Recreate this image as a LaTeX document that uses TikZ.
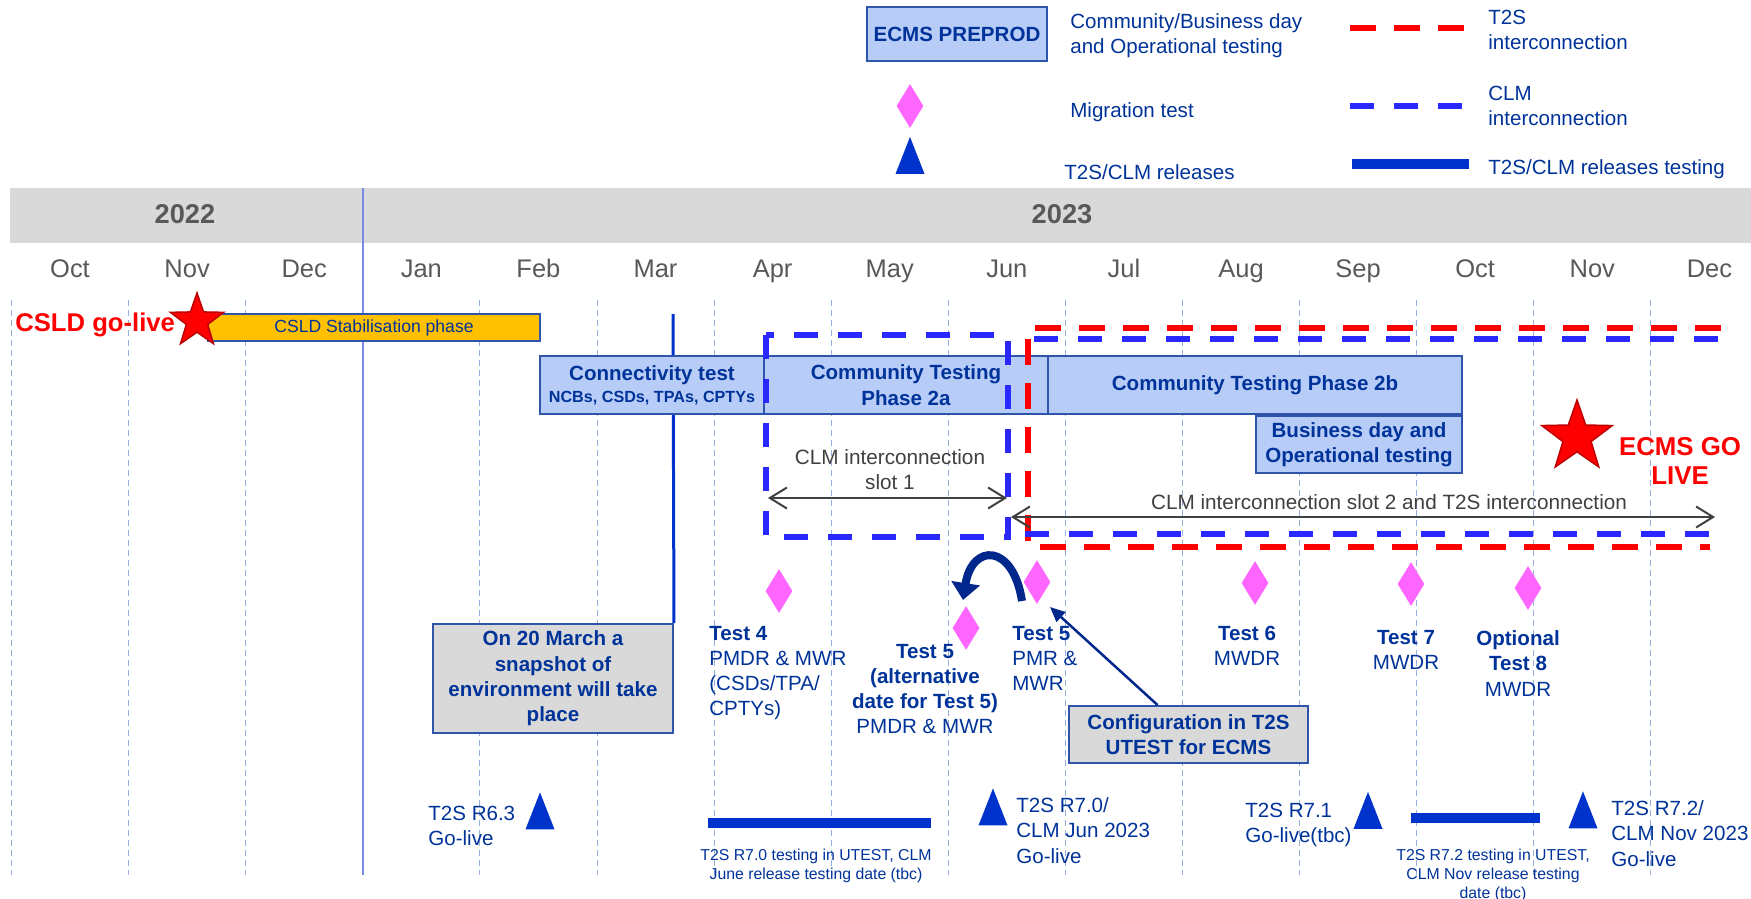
\documentclass[tikz,border=0pt]{standalone}
\usepackage{fontspec}
\setmainfont{Liberation Sans}
\usetikzlibrary{arrows.meta,%
                shapes.geometric}
\definecolor{txtblue}{RGB}{0,51,153}
\definecolor{boxblue}{RGB}{184,204,248}
\definecolor{boxline}{RGB}{47,85,170}
\definecolor{notegray}{RGB}{217,217,217}
\definecolor{stabyellow}{RGB}{255,192,0}
\definecolor{migrpink}{RGB}{255,102,255}
\definecolor{relblue}{RGB}{0,51,204}
\definecolor{clmblue}{RGB}{40,40,255}
\definecolor{t2sred}{RGB}{255,0,0}
\definecolor{navy}{RGB}{0,40,140}
\definecolor{gridblue}{RGB}{150,175,220}
\definecolor{monthgray}{RGB}{89,89,89}
\definecolor{arrowgray}{RGB}{64,64,64}
\tikzstyle{phasebox}=[rectangle, draw=boxline, line width=0.4mm, fill=boxblue, text=txtblue, font=\bfseries\fontsize{11.7}{14.4}\selectfont, align=center, inner sep=0pt]
\tikzstyle{notebox}=[phasebox, fill=notegray]
\tikzstyle{stabbox}=[rectangle, draw=boxline, line width=0.4mm, fill=stabyellow, text=txtblue, font=\fontsize{10}{12}\selectfont, inner sep=0pt]
\tikzstyle{migr}=[diamond, fill=migrpink, minimum width=0.54cm, minimum height=0.88cm, inner sep=0pt]
\tikzstyle{release}=[isosceles triangle, shape border rotate=90, isosceles triangle stretches, fill=relblue, minimum width=0.58cm, minimum height=0.74cm, inner sep=0pt]
\tikzstyle{redstar}=[star, star points=5, star point ratio=2.5, fill=t2sred, draw=red!75!black, line width=0.3mm, inner sep=0pt]
\tikzstyle{clmdash}=[draw=clmblue, line width=1.2mm, dash pattern=on 4.8mm off 4mm]
\tikzstyle{t2sdash}=[draw=t2sred, line width=1.2mm, dash pattern=on 5.2mm off 3.6mm]
\tikzstyle{monthgrid}=[draw=gridblue, line width=0.2mm, dash pattern=on 1.2mm off 0.8mm]
\tikzstyle{relbar}=[draw=relblue, line width=2mm]
\tikzstyle{slotarrow}=[draw=arrowgray, line width=0.4mm, {Straight Barb[length=3.4mm,width=4.2mm]}-{Straight Barb[length=3.4mm,width=4.2mm]}]
\tikzstyle{swaparrow}=[draw=navy, line width=1.6mm, -{Triangle[length=3.4mm,width=5.6mm]}]
\tikzstyle{cfgarrow}=[draw=navy, line width=0.5mm, -{Triangle[length=3mm,width=2.6mm]}]
\tikzstyle{monthlbl}=[text=monthgray, font=\fontsize{14.5}{17}\selectfont, inner sep=0pt, anchor=base]
\tikzstyle{yearlbl}=[text=monthgray, font=\bfseries\fontsize{15.5}{18}\selectfont, inner sep=0pt, anchor=base]
\tikzstyle{legtxt}=[text=txtblue, font=\fontsize{11.7}{14.2}\selectfont, align=left, inner sep=0pt]
\tikzstyle{testlbl}=[text=txtblue, font=\fontsize{11.7}{14.3}\selectfont, inner sep=0pt]
\tikzstyle{redlbl}=[text=t2sred, font=\bfseries\fontsize{14.6}{17}\selectfont, align=center, inner sep=0pt]
\tikzstyle{slotlbl}=[text=arrowgray, font=\fontsize{11.8}{14.2}\selectfont, align=center, inner sep=0pt]
\tikzstyle{smalllbl}=[text=txtblue, font=\fontsize{9}{10.8}\selectfont, align=center, inner sep=0pt]

\begin{document}
\begin{tikzpicture}[x=0.02cm,y=-0.02cm]
  \useasboundingbox (0,0) rectangle (1751,899);
  \fill[white] (0,0) rectangle (1751,899);

  % legend
  \node[phasebox, minimum width=3.6cm, minimum height=1.08cm] (legbox) at (957,34) {ECMS PREPROD};
  \node[legtxt, anchor=north west] (legbiz) at (1070,13.5) {Community/Business day\\and Operational testing};
  \draw[t2sdash] (1350,28) -- (1469,28);
  \node[legtxt, anchor=north west] (legt2s) at (1488,9.5) {T2S\\interconnection};
  \node[migr] (legdiam) at (910,106) {};
  \node[legtxt, anchor=north west] (legmigr) at (1070,102.5) {Migration test};
  \draw[clmdash] (1350,106) -- (1469,106);
  \node[legtxt, anchor=north west] (legclm) at (1488,85.5) {CLM\\interconnection};
  \node[release] (legrel) at (910,164) {};
  \node[legtxt, anchor=north west] (legreltxt) at (1064,164.5) {T2S/CLM releases};
  \draw[relbar] (1352,164) -- (1469,164);
  \node[legtxt, anchor=north west] (legbar) at (1488,159.5) {T2S/CLM releases testing};

  % years and months
  \fill[notegray] (10,188) rectangle (1751,243);
  \node[yearlbl] (y22) at (185,223.5) {2022};
  \node[yearlbl] (y23) at (1062,223.5) {2023};
  \foreach \mon [count=\i from 0] in {Oct,Nov,Dec,Jan,Feb,Mar,Apr,May,Jun,Jul,Aug,Sep,Oct,Nov,Dec}
    \node[monthlbl] (mon\i) at ({70+117.1*\i},277) {\mon};
  \foreach \i in {0,1,2,4,5,...,14}
    \draw[monthgrid] ({11.5+117.1*\i},300) -- ({11.5+117.1*\i},875);
  \draw[gridblue!80!blue, line width=0.3mm] (362.8,188) -- (362.8,875);

  % snapshot
  \node[notebox, minimum width=4.8cm, minimum height=2.18cm] (snapshot) at (553,678.5) {On 20 March a\\snapshot of\\environment will take\\place};
  \coordinate (snaptop) at (673,314);
  \draw[relblue, line width=0.6mm] (snaptop) -- (snapshot.north east);

  % CSLD
  \node[redlbl, anchor=west] (csld) at (15,325) {CSLD go-live};
  \node[stabbox, minimum width=6.64cm, minimum height=0.54cm] (stab) at (374,327.5) {CSLD Stabilisation phase};
  \node[redstar, minimum size=1.12cm] (csldstar) at (197,321) {};

  % phases
  \node[phasebox, minimum width=4.48cm, minimum height=1.16cm] (conn) at (652,385) {Connectivity test\\[-2pt]{\fontsize{9.2}{11}\selectfont NCBs, CSDs, TPAs, CPTYs}};
  \node[phasebox, minimum width=5.68cm, minimum height=1.16cm] (ct2a) at (906,385) {Community Testing\\Phase 2a};
  \node[phasebox, minimum width=8.28cm, minimum height=1.16cm] (ct2b) at (1255,385) {Community Testing Phase 2b};
  \node[phasebox, minimum width=4.12cm, minimum height=1.14cm] (bizday) at (1359,444.5) {Business day and\\Operational testing};

  % interconnection
  \draw[clmdash] (766,335) rectangle (1008,537);
  \draw[t2sdash] (1721,328) -- (1028,328) -- (1028,547) -- (1710,547);
  \draw[clmdash] (1034,339) -- (1721,339);
  \draw[clmdash] (1025,534) -- (1710,534);
  \coordinate (s1a) at (768,498);
  \coordinate (s1b) at (1007,498);
  \draw[slotarrow] (s1a) -- (s1b);
  \node[slotlbl] (s1lbl) at (890,469.5) {CLM interconnection\\slot 1};
  \coordinate (s2a) at (1011,517);
  \coordinate (s2b) at (1715,517);
  \draw[slotarrow] (s2a) -- (s2b);
  \node[slotlbl] (s2lbl) at (1389,502) {CLM interconnection slot 2 and T2S interconnection};

  % go live
  \node[redstar, minimum size=1.48cm] (golive) at (1577,437) {};
  \node[redlbl, font=\bfseries\fontsize{14.7}{17}\selectfont] (golivetxt) at (1680,461) {ECMS GO\\LIVE};

  % migration tests
  \node[migr] (t4) at (779,591) {};
  \node[migr] (t5alt) at (966,628) {};
  \node[migr] (t5) at (1037,582) {};
  \node[migr] (t6) at (1255,583) {};
  \node[migr] (t7) at (1411,584) {};
  \node[migr] (t8) at (1528,588) {};
  \coordinate (swapa) at (1022,601);
  \coordinate (swapb) at (963,600);
  \draw[swaparrow] (swapa) .. controls (1013,543) and (972,543) .. (swapb);
  \node[testlbl, anchor=north west, align=left] (t4lbl) at (709,625.5) {\textbf{Test 4}\\PMDR \& MWR\\(CSDs/TPA/\\CPTYs)};
  \node[testlbl, anchor=north, align=center] (t5altlbl) at (925,643.5) {\textbf{Test 5}\\\textbf{(alternative}\\\textbf{date for Test 5)}\\PMDR \& MWR};
  \node[testlbl, anchor=north west, align=left] (t5lbl) at (1012,625.5) {\textbf{Test 5}\\PMR \&\\MWR};
  \node[testlbl, anchor=north, align=center] (t6lbl) at (1247,625.5) {\textbf{Test 6}\\MWDR};
  \node[testlbl, anchor=north, align=center] (t7lbl) at (1406,629.5) {\textbf{Test 7}\\MWDR};
  \node[testlbl, anchor=north, align=center] (t8lbl) at (1518,630.5) {\textbf{Optional}\\\textbf{Test 8}\\MWDR};
  \node[notebox, minimum width=4.78cm, minimum height=1.14cm] (config) at (1188.5,734.5) {Configuration in T2S\\UTEST for ECMS};
  \coordinate (cfgtip) at (1050,607);
  \draw[cfgarrow] ([xshift=-0.62cm]config.north) -- (cfgtip);

  % releases
  \node[testlbl, anchor=north west, align=left] (r63lbl) at (428,805.5) {T2S R6.3\\Go-live};
  \node[release] (r63) at (540,819.5) {};
  \draw[relbar] (708,823) -- (931,823);
  \node[smalllbl, anchor=north] (bar70lbl) at (816,848.3) {T2S R7.0 testing in UTEST, CLM\\June release testing date (tbc)};
  \node[release] (r70) at (993,815.5) {};
  \node[testlbl, anchor=north west, align=left] (r70lbl) at (1016,797.5) {T2S R7.0/\\CLM Jun 2023\\Go-live};
  \node[testlbl, anchor=north west, align=left] (r71lbl) at (1245,802.5) {T2S R7.1\\Go-live(tbc)};
  \node[release] (r71) at (1368,819) {};
  \draw[relbar] (1411,818) -- (1540,818);
  \node[smalllbl, anchor=north] (bar72lbl) at (1493,848.3) {T2S R7.2 testing in UTEST,\\CLM Nov release testing\\date (tbc)};
  \node[release] (r72) at (1583,818.5) {};
  \node[testlbl, anchor=north west, align=left] (r72lbl) at (1611,800.5) {T2S R7.2/\\CLM Nov 2023\\Go-live};
\end{tikzpicture}
\end{document}
